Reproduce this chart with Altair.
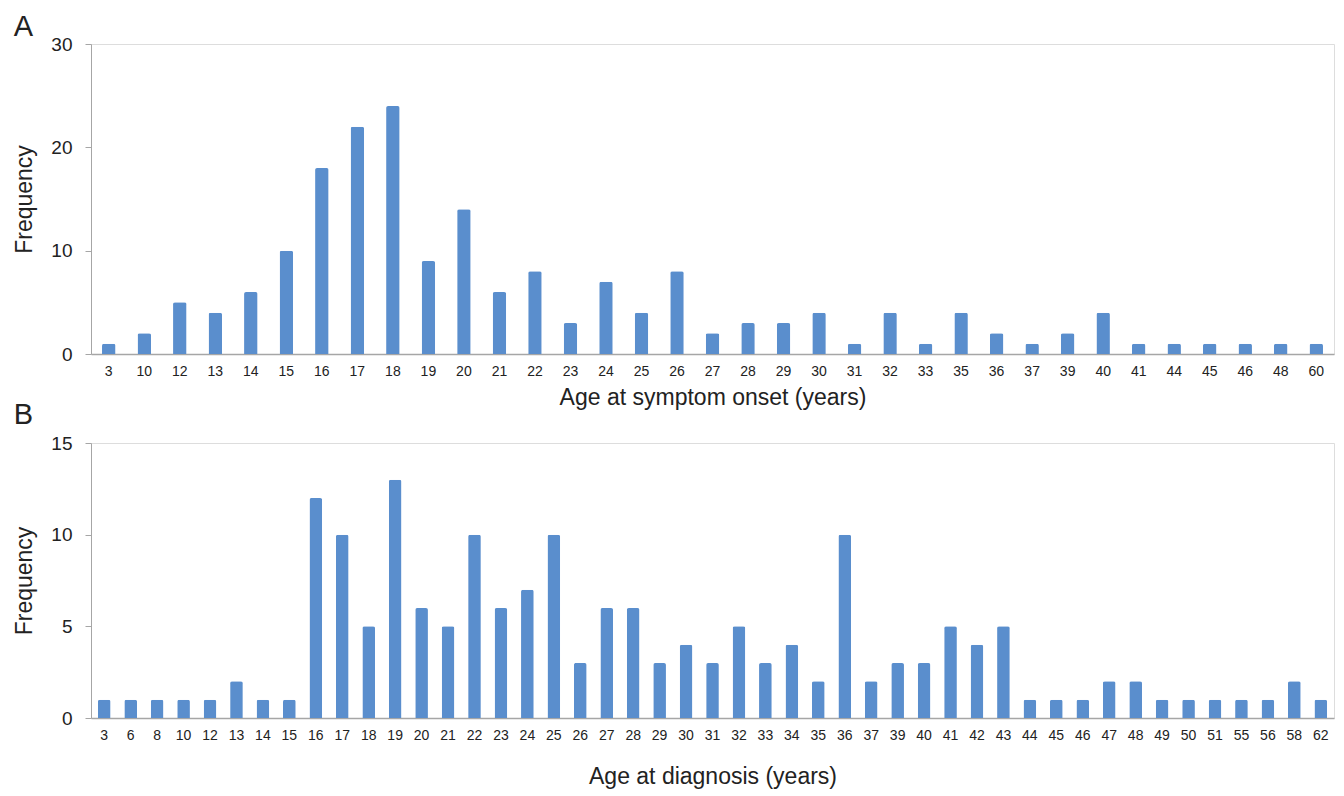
import altair as alt
import pandas as pd

# Panel A: age at symptom onset
onset_ages = ["3", "10", "12", "13", "14", "15", "16", "17", "18", "19", "20", "21",
              "22", "23", "24", "25", "26", "27", "28", "29", "30", "31", "32", "33",
              "35", "36", "37", "39", "40", "41", "44", "45", "46", "48", "60"]
onset_freq = [1, 2, 5, 4, 6, 10, 18, 22, 24, 9, 14, 6,
              8, 3, 7, 4, 8, 2, 3, 3, 4, 1, 4, 1,
              4, 2, 1, 2, 4, 1, 1, 1, 1, 1, 1]

# Panel B: age at diagnosis
diag_ages = ["3", "6", "8", "10", "12", "13", "14", "15", "16", "17", "18", "19",
             "20", "21", "22", "23", "24", "25", "26", "27", "28", "29", "30", "31",
             "32", "33", "34", "35", "36", "37", "39", "40", "41", "42", "43", "44",
             "45", "46", "47", "48", "49", "50", "51", "55", "56", "58", "62"]
diag_freq = [1, 1, 1, 1, 1, 2, 1, 1, 12, 10, 5, 13,
             6, 5, 10, 6, 7, 10, 3, 6, 6, 3, 4, 3,
             5, 3, 4, 2, 10, 2, 3, 3, 5, 4, 5, 1,
             1, 1, 2, 2, 1, 1, 1, 1, 1, 2, 1]

FONT = "Liberation Sans"
BAR = "#5A8ECD"
AXIS = "#A6A6A6"
TEXT = "#222222"


def panel(ages, freq, letter, xtitle, ymax, ystep, height, pad_inner, xtitle_pad, toff):
    df = pd.DataFrame({"age": ages, "freq": freq})
    return alt.Chart(df, title=alt.TitleParams(
        letter, anchor="start", frame="bounds", fontSize=29, font=FONT,
        fontWeight="normal", color=TEXT, offset=toff, dx=0)).mark_bar(
        color=BAR, cornerRadiusTopLeft=2, cornerRadiusTopRight=2
    ).encode(
        x=alt.X("age:O", sort=ages, title=xtitle,
                scale=alt.Scale(paddingInner=pad_inner, paddingOuter=pad_inner / 2),
                axis=alt.Axis(labelAngle=0, ticks=False, tickSize=0, labelPadding=10,
                              labelFontSize=14, labelFont=FONT, labelColor=TEXT,
                              titleFont=FONT, titleFontSize=23, titleFontWeight="normal",
                              titleColor=TEXT, titlePadding=xtitle_pad,
                              domainColor=AXIS, domainWidth=1.5)),
        y=alt.Y("freq:Q", title="Frequency",
                scale=alt.Scale(domain=[0, ymax], nice=False),
                axis=alt.Axis(values=list(range(0, ymax + 1, ystep)), grid=False,
                              tickSize=6, tickColor=AXIS, domainColor=AXIS,
                              labelPadding=13, labelFontSize=19, labelFont=FONT,
                              labelColor=TEXT, titleFont=FONT, titleFontSize=23,
                              titleFontWeight="normal", titleColor=TEXT,
                              titlePadding=14)),
    ).properties(width=1243, height=height)


a = panel(onset_ages, onset_freq, "A", "Age at symptom onset (years)", 30, 10, 310, 0.62, 8, -7)
b = panel(diag_ages, diag_freq, "B", "Age at diagnosis (years)", 15, 5, 275, 0.52, 23, 4)

chart = alt.vconcat(a, b, spacing=89, bounds="flush").configure_view(stroke=None).configure(
    background="white").properties(padding={"left": 5, "top": 4, "right": 0, "bottom": 0})

chart.save("out.html", embed_options={"renderer": "svg", "actions": False})
